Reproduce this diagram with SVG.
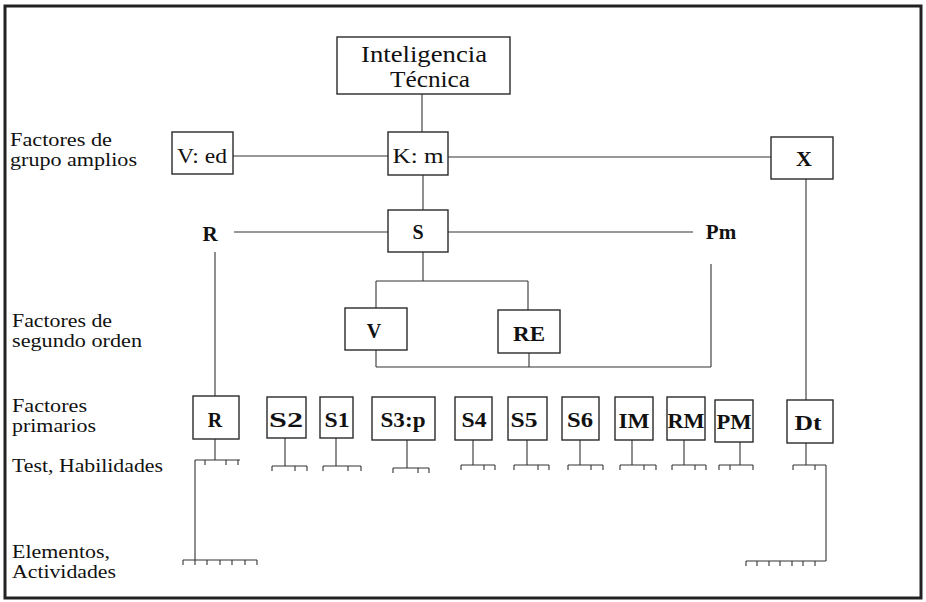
<svg xmlns="http://www.w3.org/2000/svg" width="926" height="602" viewBox="0 0 926 602">
<style>
.box{fill:#fff;stroke:#2a2a2a;stroke-width:1.4}
.ln{fill:none;stroke:#333;stroke-width:1.1}
.lbl{font-family:"Liberation Serif","Times New Roman",serif;font-size:18px;fill:#111}
.nt{font-family:"Liberation Serif","Times New Roman",serif;font-size:20px;fill:#111;text-anchor:middle}
.b{font-weight:bold}
</style>
<rect x="5" y="6" width="916" height="592" fill="#fff" stroke="#222" stroke-width="3"/>

<g id="labels">
<text class="lbl" x="10" y="146" textLength="102" lengthAdjust="spacingAndGlyphs">Factores de</text>
<text class="lbl" x="10" y="166" textLength="127" lengthAdjust="spacingAndGlyphs">grupo amplios</text>
<text class="lbl" x="12" y="327" textLength="100" lengthAdjust="spacingAndGlyphs">Factores de</text>
<text class="lbl" x="12" y="347" textLength="130" lengthAdjust="spacingAndGlyphs">segundo orden</text>
<text class="lbl" x="12" y="412" textLength="75" lengthAdjust="spacingAndGlyphs">Factores</text>
<text class="lbl" x="12" y="432" textLength="84" lengthAdjust="spacingAndGlyphs">primarios</text>
<text class="lbl" x="12" y="472" textLength="151" lengthAdjust="spacingAndGlyphs">Test, Habilidades</text>
<text class="lbl" x="12" y="558" textLength="98" lengthAdjust="spacingAndGlyphs">Elementos,</text>
<text class="lbl" x="12" y="578" textLength="104" lengthAdjust="spacingAndGlyphs">Actividades</text>
</g>

<g id="connectors">
<path class="ln" d="M422 94V132"/>
<path class="ln" d="M233 156H388"/>
<path class="ln" d="M448 157H771"/>
<path class="ln" d="M423 175V210"/>
<path class="ln" d="M234 232H388"/>
<path class="ln" d="M448 232H693"/>
<path class="ln" d="M215 252V396"/>
<path class="ln" d="M806 179V400"/>
<path class="ln" d="M423 252V281M376 281H528M376 281V308M528 281V310"/>
<path class="ln" d="M376 350V367M529 353V367M376 367H711M711 264V367"/>
<path class="ln" d="M215 439V460M195 460H240M205 460v5M226 460v5M238 460v5M195 460V560M183 560H257M183 560v5M195 560v5M207 560v5M220 560v5M232 560v5M245 560v5M257 560v5"/>
<path class="ln" d="M285 438V466M272 466H307M272 466v5M295 466v5M307 466v5"/>
<path class="ln" d="M336 438V466M323 466H361M323 466v5M348 466v5M361 466v5"/>
<path class="ln" d="M407 440V468M393 468H429M393 468v5M418 468v5M429 468v5"/>
<path class="ln" d="M473 440V465M461 465H495M461 465v5M484 465v5M495 465v5"/>
<path class="ln" d="M527 440V465M514 465H549M514 465v5M538 465v5M549 465v5"/>
<path class="ln" d="M580 440V465M568 465H603M568 465v5M591 465v5M603 465v5"/>
<path class="ln" d="M632 440V465M620 465H656M620 465v5M644 465v5M656 465v5"/>
<path class="ln" d="M684 440V465M672 465H706M672 465v5M695 465v5M706 465v5"/>
<path class="ln" d="M740 442V465M719 465H753M719 465v5M730 465v5M753 465v5"/>
<path class="ln" d="M806 443V465M793 465H826M793 465v5M815 465v5M826 465V561M746 561H826M746 561v5M757 561v5M769 561v5M780 561v5M792 561v5M803 561v5M815 561v5"/>
</g>

<g id="n-inteligencia">
<rect class="box" x="337" y="37" width="173" height="57"/>
<text class="nt" x="424" y="62" style="font-size:24px" textLength="126" lengthAdjust="spacingAndGlyphs">Inteligencia</text>
<text class="nt" x="430" y="87" style="font-size:24px" textLength="80" lengthAdjust="spacingAndGlyphs">Técnica</text>
</g>
<g id="n-ved"><rect class="box" x="172" y="132" width="61" height="42"/><text class="nt" x="202" y="163" textLength="50" lengthAdjust="spacingAndGlyphs">V: ed</text></g>
<g id="n-km"><rect class="box" x="388" y="132" width="60" height="43"/><text class="nt" x="418" y="163" textLength="51" lengthAdjust="spacingAndGlyphs">K: m</text></g>
<g id="n-x"><rect class="box" x="771" y="137" width="62" height="42"/><text class="nt b" x="804" y="166" style="font-size:22px">X</text></g>
<g id="n-s"><rect class="box" x="388" y="210" width="60" height="42"/><text class="nt b" x="418" y="239">S</text></g>
<g id="n-r2"><text class="nt b" x="210" y="241" style="font-size:21px">R</text></g>
<g id="n-pm2"><text class="nt b" x="721" y="239" style="font-size:21px">Pm</text></g>
<g id="n-v"><rect class="box" x="345" y="308" width="62" height="42"/><text class="nt b" x="374" y="338">V</text></g>
<g id="n-re"><rect class="box" x="498" y="310" width="62" height="43"/><text class="nt b" x="529" y="341" textLength="32" lengthAdjust="spacingAndGlyphs">RE</text></g>

<g id="n-r"><rect class="box" x="193" y="396" width="46" height="43"/><text class="nt b" x="215" y="427">R</text></g>
<g id="n-s2"><rect class="box" x="267" y="397" width="39" height="41"/><text class="nt b" x="286" y="427" textLength="34" lengthAdjust="spacingAndGlyphs">S2</text></g>
<g id="n-s1"><rect class="box" x="320" y="397" width="33" height="41"/><text class="nt b" x="337" y="427" textLength="25" lengthAdjust="spacingAndGlyphs">S1</text></g>
<g id="n-s3p"><rect class="box" x="372" y="397" width="63" height="43"/><text class="nt b" x="403" y="427" textLength="45" lengthAdjust="spacingAndGlyphs">S3:p</text></g>
<g id="n-s4"><rect class="box" x="455" y="397" width="37" height="43"/><text class="nt b" x="474" y="427" textLength="25" lengthAdjust="spacingAndGlyphs">S4</text></g>
<g id="n-s5"><rect class="box" x="508" y="397" width="39" height="43"/><text class="nt b" x="524" y="427" textLength="27" lengthAdjust="spacingAndGlyphs">S5</text></g>
<g id="n-s6"><rect class="box" x="562" y="397" width="37" height="43"/><text class="nt b" x="580" y="427" textLength="26" lengthAdjust="spacingAndGlyphs">S6</text></g>
<g id="n-im"><rect class="box" x="615" y="397" width="38" height="43"/><text class="nt b" x="634" y="428" textLength="31" lengthAdjust="spacingAndGlyphs">IM</text></g>
<g id="n-rm"><rect class="box" x="667" y="397" width="38" height="43"/><text class="nt b" x="686" y="428" textLength="37" lengthAdjust="spacingAndGlyphs">RM</text></g>
<g id="n-pm"><rect class="box" x="715" y="400" width="38" height="42"/><text class="nt b" x="734" y="429" textLength="35" lengthAdjust="spacingAndGlyphs">PM</text></g>
<g id="n-dt"><rect class="box" x="787" y="400" width="46" height="43"/><text class="nt b" x="808" y="430" textLength="27" lengthAdjust="spacingAndGlyphs">Dt</text></g>
</svg>
